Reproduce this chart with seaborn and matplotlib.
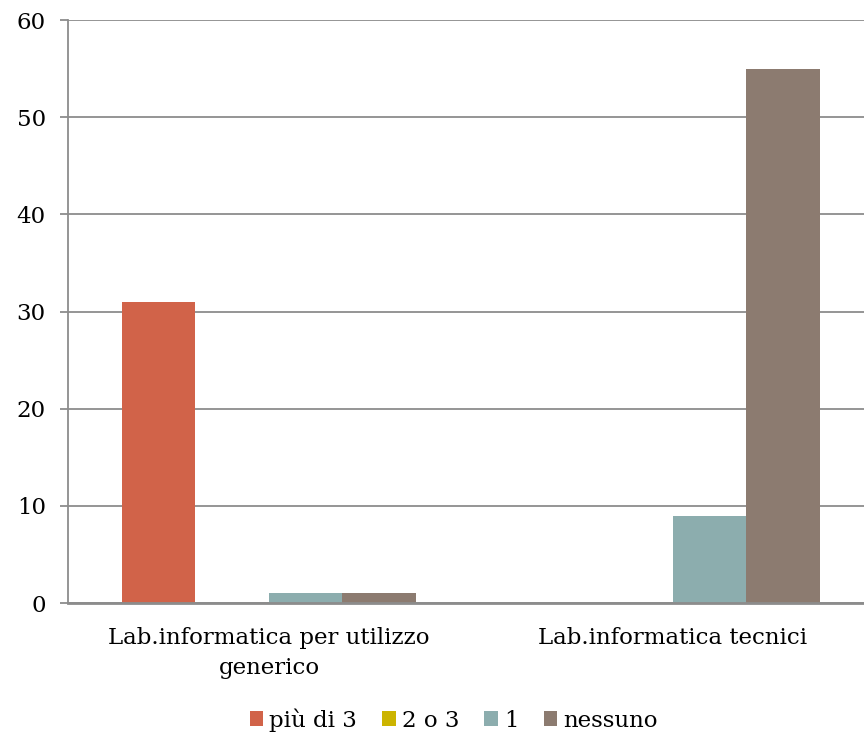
import matplotlib
matplotlib.use("Agg")
import pandas as pd
import matplotlib.pyplot as plt
import seaborn as sns

categories = ["Lab.informatica per utilizzo\ngenerico", "Lab.informatica tecnici"]
series = ["più di 3", "2 o 3", "1", "nessuno"]
values = {
    "più di 3": [31, 0],
    "2 o 3": [0, 0],
    "1": [1, 9],
    "nessuno": [1, 55],
}
colors = ["#D16349", "#CCB400", "#8CADAE", "#8C7B70"]

rows = []
for s in series:
    for c, v in zip(categories, values[s]):
        rows.append({"cat": c, "serie": s, "val": v})
df = pd.DataFrame(rows)

sns.set_style("white")
plt.rcParams["font.family"] = ["DejaVu Serif"]
plt.rcParams["text.color"] = "black"
plt.rcParams["xtick.color"] = "black"
plt.rcParams["ytick.color"] = "black"

fig = plt.figure(figsize=(8.64, 7.36), dpi=100)
ax = fig.add_axes([0.0787, 0.1807, 0.9213, 0.7921])

sns.barplot(data=df, x="cat", y="val", hue="serie", hue_order=series,
            palette=colors, width=0.728, gap=0, saturation=1,
            edgecolor="none", ax=ax)

ax.set_ylim(0, 60)
ax.set_yticks(range(0, 61, 10))
ax.set_xlim(-0.4975, 1.473)
ax.yaxis.grid(True, color="#8c8c8c", linewidth=1.3)
ax.set_axisbelow(True)
ax.set_xlabel("")
ax.set_ylabel("")

for side in ["top", "right"]:
    ax.spines[side].set_visible(False)
ax.spines["left"].set_color("#8c8c8c")
ax.spines["left"].set_linewidth(1.3)
ax.spines["bottom"].set_color("#8c8c8c")
ax.spines["bottom"].set_linewidth(2)

ax.tick_params(axis="y", which="both", left=True, length=6, width=1.3,
               color="#8c8c8c", labelcolor="black", labelsize=16.5, pad=10)
ax.tick_params(axis="x", bottom=False, labelcolor="black", labelsize=16.5, pad=14)
for lbl in ax.get_xticklabels():
    lbl.set_linespacing(1.45)

ax.get_legend().remove()
handles, labels = ax.get_legend_handles_labels()
fig.legend(handles, labels, loc="center", bbox_to_anchor=(0.525, 0.022), ncol=4,
           frameon=False, fontsize=16.5, handlelength=0.6, handleheight=0.6,
           handletextpad=0.25, columnspacing=1.1)

fig.savefig("out.png", dpi=100)
